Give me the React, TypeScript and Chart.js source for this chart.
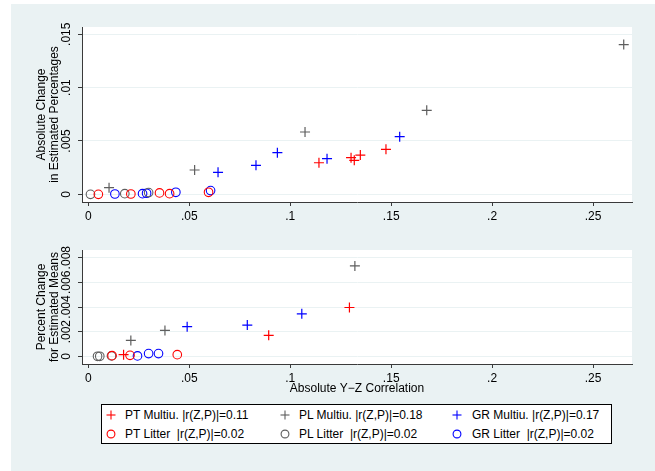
import React, { useEffect, useRef } from "react";
import { Chart, registerables } from "chart.js";
Chart.register(...registerables);

const BG = "#EAF2F3";
const RED = "#FF0000";
const GRAY = "#5E5E5E";
const BLUE = "#0000FF";
const AXIS = "#3A3A3A";
const FONT = "'Liberation Sans', Arial, sans-serif";

// axes
const xTicks = [0, 0.05, 0.1, 0.15, 0.2, 0.25];
const xTickLabels = ["0", ".05", ".1", ".15", ".2", ".25"];
const topYTicks = [0, 0.005, 0.01, 0.015];
const topYTickLabels = ["0", ".005", ".01", ".015"];
const botYTicks = [0, 0.002, 0.004, 0.006, 0.008];
const botYTickLabels = ["0", ".002", ".004", ".006", ".008"];
const topYTitle = ["Absolute Change", "in Estimated Percentages"];
const botYTitle = ["Percent Change", "for Estimated Means"];
const xTitle = "Absolute Y\u2212Z Correlation";

const seriesLabels = [
  "PT Multiu. |r(Z,P)|=0.11",
  "PL Multiu. |r(Z,P)|=0.18",
  "GR Multiu. |r(Z,P)|=0.17",
  "PT Litter  |r(Z,P)|=0.02",
  "PL Litter  |r(Z,P)|=0.02",
  "GR Litter  |r(Z,P)|=0.02",
];
const seriesColors = [RED, GRAY, BLUE, RED, GRAY, BLUE];
const seriesStyles = ["cross", "cross", "cross", "circle", "circle", "circle"];

// top panel: absolute change
const topPtMultiX = [0.1142, 0.1301, 0.1317, 0.1347, 0.1474];
const topPtMultiY = [0.00296, 0.00343, 0.00319, 0.00368, 0.00422];
const topPlMultiX = [0.0102, 0.0526, 0.1073, 0.1676, 0.2652];
const topPlMultiY = [0.00062, 0.00228, 0.00584, 0.00787, 0.01403];
const topGrMultiX = [0.0642, 0.083, 0.0936, 0.1182, 0.1542];
const topGrMultiY = [0.00206, 0.00272, 0.0039, 0.00334, 0.0054];
const topPtLitterX = [0.0049, 0.021, 0.0352, 0.0402, 0.0595];
const topPtLitterY = [0, 0.00003, 0.00013, 0.00006, 0.00019];
const topPlLitterX = [0.001, 0.018, 0.0298];
const topPlLitterY = [0, 0.00006, 0.00016];
const topGrLitterX = [0.0131, 0.0268, 0.0288, 0.0433, 0.0605];
const topGrLitterY = [0.00003, 0.00006, 0.0001, 0.00019, 0.00035];

// bottom panel: percent change
const botPtMultiX = [0.0174, 0.0893, 0.1293];
const botPtMultiY = [0.00013, 0.0017, 0.00396];
const botPlMultiX = [0.021, 0.0379, 0.132];
const botPlMultiY = [0.00129, 0.0021, 0.00733];
const botGrMultiX = [0.0489, 0.0787, 0.1057];
const botGrMultiY = [0.0024, 0.00253, 0.00345];
const botPtLitterX = [0.0117, 0.0206, 0.044];
const botPtLitterY = [0.00005, 0.00008, 0.00013];
const botPlLitterX = [0.0045, 0.0056, 0.0114];
const botPlLitterY = [0, 0, 0.00003];
const botGrLitterX = [0.0243, 0.0298, 0.0347];
const botGrLitterY = [0.00003, 0.00022, 0.00022];

const X_MIN = -0.0032;
const X_MAX = 0.2693;

const plotBg = {
  id: "plotBg",
  beforeDraw(chart: any) {
    const { ctx, chartArea: a } = chart;
    ctx.save();
    ctx.fillStyle = "#FFFFFF";
    ctx.fillRect(a.left, a.top, a.right - a.left, a.bottom - a.top);
    ctx.restore();
  },
};

function makeDatasets(xs: number[][], ys: number[][]) {
  return xs.map((xa, k) => ({
    label: seriesLabels[k],
    data: xa.map((x, i) => ({ x, y: ys[k][i] })),
    pointStyle: seriesStyles[k],
    pointRadius: seriesStyles[k] === "cross" ? 5 : 4.3,
    pointBorderWidth: seriesStyles[k] === "cross" ? 1.2 : 1.1,
    borderColor: seriesColors[k],
    backgroundColor: "rgba(0,0,0,0)",
    showLine: false,
  }));
}

function makeConfig(opts: {
  xs: number[][];
  ys: number[][];
  yMin: number;
  yMax: number;
  yTicks: number[];
  yLabels: string[];
  yTitle: string[];
  padding: any;
  xHeight: number;
  showXTitle: boolean;
  xTitlePad: number;
}): any {
  return {
    type: "scatter",
    data: { datasets: makeDatasets(opts.xs, opts.ys) },
    plugins: [plotBg],
    options: {
      animation: false,
      responsive: false,
      maintainAspectRatio: false,
      devicePixelRatio: 1,
      events: [],
      layout: { padding: opts.padding },
      plugins: { legend: { display: false }, tooltip: { enabled: false } },
      scales: {
        x: {
          type: "linear",
          min: X_MIN,
          max: X_MAX,
          afterBuildTicks: (s: any) => {
            s.ticks = xTicks.map((v) => ({ value: v }));
          },
          afterFit: (s: any) => {
            s.height = opts.xHeight;
          },
          grid: { drawOnChartArea: false, drawTicks: true, tickLength: 4, tickColor: AXIS, tickWidth: 1 },
          border: { display: true, color: AXIS, width: 1 },
          ticks: {
            autoSkip: false,
            minRotation: 0,
            maxRotation: 0,
            padding: 3,
            color: "#000",
            font: { family: FONT, size: 12 },
            callback: (_v: any, i: number) => xTickLabels[i],
          },
          title: {
            display: opts.showXTitle,
            text: xTitle,
            color: "#000",
            font: { family: FONT, size: 12, lineHeight: 1.04 },
            padding: { top: 0, bottom: opts.xTitlePad },
          },
        },
        y: {
          type: "linear",
          min: opts.yMin,
          max: opts.yMax,
          afterBuildTicks: (s: any) => {
            s.ticks = opts.yTicks.map((v) => ({ value: v }));
          },
          afterFit: (s: any) => {
            s.width = 60;
          },
          grid: { color: BG, lineWidth: 1, drawTicks: true, tickLength: 4, tickColor: AXIS, tickWidth: 1 },
          border: { display: true, color: AXIS, width: 1 },
          ticks: {
            autoSkip: false,
            minRotation: 90,
            maxRotation: 90,
            crossAlign: "center",
            padding: 0,
            color: "#000",
            font: { family: FONT, size: 12 },
            callback: (_v: any, i: number) => opts.yLabels[i],
          },
          title: {
            display: true,
            text: opts.yTitle,
            color: "#000",
            font: { family: FONT, size: 12, lineHeight: 1.04 },
            padding: { top: 13.5, bottom: 0 },
          },
        },
      },
    },
  };
}

function Marker({ style, color }: { style: string; color: string }) {
  return (
    <svg width={10} height={10} style={{ display: "block" }}>
      {style === "cross" ? (
        <g stroke={color} strokeWidth={1.1}>
          <line x1={0.5} y1={5} x2={9.5} y2={5} />
          <line x1={5} y1={0.5} x2={5} y2={9.5} />
        </g>
      ) : (
        <circle cx={5} cy={5} r={3.9} stroke={color} strokeWidth={1.1} fill="none" />
      )}
    </svg>
  );
}

const legendColX = [110.5, 285, 456.6];
const legendTextX = [125, 299, 472];
const legendRowY = [415, 434];

export default function App() {
  const topRef = useRef<HTMLCanvasElement>(null);
  const botRef = useRef<HTMLCanvasElement>(null);

  useEffect(() => {
    const top = new Chart(
      topRef.current as HTMLCanvasElement,
      makeConfig({
        xs: [topPtMultiX, topPlMultiX, topGrMultiX, topPtLitterX, topPlLitterX, topGrLitterX],
        ys: [topPtMultiY, topPlMultiY, topGrMultiY, topPtLitterY, topPlLitterY, topGrLitterY],
        yMin: -0.00072,
        yMax: 0.01568,
        yTicks: topYTicks,
        yLabels: topYTickLabels,
        yTitle: topYTitle,
        padding: { left: 22, right: 23, top: 27, bottom: 0 },
        xHeight: 28,
        showXTitle: false,
        xTitlePad: 0,
      })
    );
    const bot = new Chart(
      botRef.current as HTMLCanvasElement,
      makeConfig({
        xs: [botPtMultiX, botPlMultiX, botGrMultiX, botPtLitterX, botPlLitterX, botGrLitterX],
        ys: [botPtMultiY, botPlMultiY, botGrMultiY, botPtLitterY, botPlLitterY, botGrLitterY],
        yMin: -0.000625,
        yMax: 0.008625,
        yTicks: botYTicks,
        yLabels: botYTickLabels,
        yTitle: botYTitle,
        padding: { left: 22, right: 23, top: 20, bottom: 0 },
        xHeight: 41,
        showXTitle: true,
        xTitlePad: 10.4,
      })
    );
    return () => {
      top.destroy();
      bot.destroy();
    };
  }, []);

  return (
    <div
      style={{
        position: "fixed",
        left: 0,
        top: 0,
        width: 655,
        height: 471,
        overflow: "hidden",
        background: "#FFFFFF",
        fontFamily: FONT,
      }}
    >
      <div style={{ position: "absolute", left: 11, top: 4, right: 0, bottom: 0, background: BG }} />
      <canvas ref={topRef} width={655} height={230} style={{ position: "absolute", left: 0, top: 0, width: 655, height: 230 }} />
      <canvas ref={botRef} width={655} height={175} style={{ position: "absolute", left: 0, top: 230, width: 655, height: 175 }} />
      <div
        style={{
          position: "absolute",
          left: 101,
          top: 404,
          width: 511,
          height: 40,
          boxSizing: "border-box",
          border: "1px solid #000",
          background: "#FFFFFF",
        }}
      />
      {seriesLabels.map((lab, k) => {
        const col = k % 3;
        const row = Math.floor(k / 3);
        return (
          <React.Fragment key={k}>
            <div style={{ position: "absolute", left: legendColX[col] - 5, top: legendRowY[row] - 5 }}>
              <Marker style={seriesStyles[k]} color={seriesColors[k]} />
            </div>
            <div
              style={{
                position: "absolute",
                left: legendTextX[col],
                top: legendRowY[row] - 7,
                fontSize: 12,
                lineHeight: "14px",
                whiteSpace: "pre",
                color: "#000",
              }}
            >
              {lab}
            </div>
          </React.Fragment>
        );
      })}
    </div>
  );
}
